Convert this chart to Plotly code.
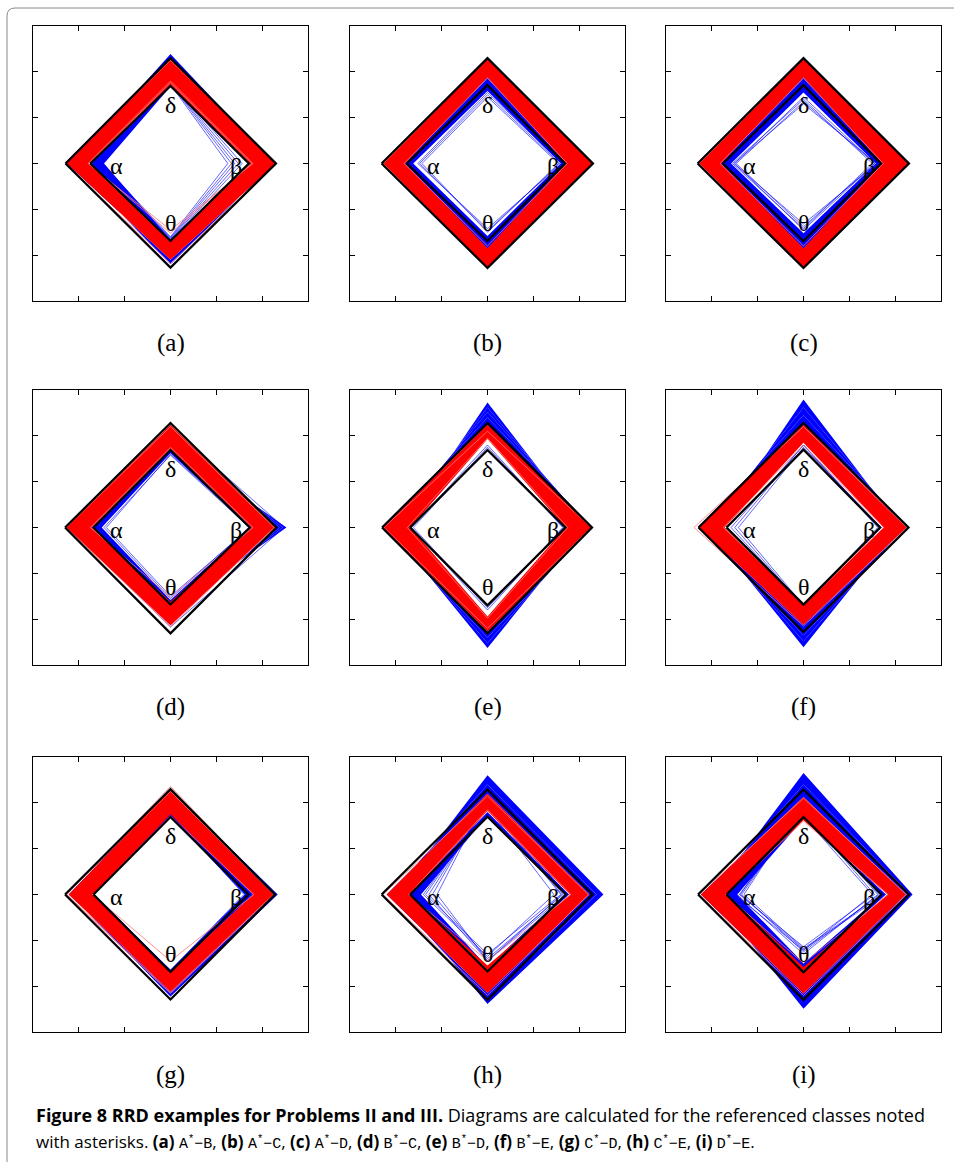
import plotly.graph_objects as go

W, H = 954, 1162

# ---------------- data (radii, order: alpha, delta, beta, theta) -------------
PANEL_TAGS = ["(a)", "(b)", "(c)", "(d)", "(e)", "(f)", "(g)", "(h)", "(i)"]
VERTEX_NAMES = ["α", "δ", "β", "θ"]

# two reference (black) diamonds per panel
BLACK_QUADS = [
    [[2.29, 2.30, 2.30, 2.27], [1.75, 1.69, 1.71, 1.69]],
    [[2.31, 2.30, 2.30, 2.28], [1.76, 1.71, 1.69, 1.69]],
    [[2.31, 2.30, 2.30, 2.28], [1.76, 1.71, 1.69, 1.69]],
    [[2.30, 2.28, 2.31, 2.31], [1.68, 1.69, 1.73, 1.68]],
    [[2.30, 2.28, 2.28, 2.31], [1.69, 1.69, 1.70, 1.70]],
    [[2.29, 2.28, 2.29, 2.28], [1.68, 1.70, 1.67, 1.68]],
    [[2.30, 2.30, 2.28, 2.29], [1.68, 1.69, 1.70, 1.69]],
    [[2.31, 2.29, 2.29, 2.30], [1.69, 1.70, 1.71, 1.68]],
    [[2.30, 2.29, 2.30, 2.30], [1.68, 1.69, 1.70, 1.70]],
]

# dense red bundle: envelope chain (outer -> inner)
RED_BANDS = [
    [[2.26, 2.28, 2.30, 2.10], [1.78, 1.72, 1.74, 1.72]],
    [[2.30, 2.30, 2.30, 2.28], [1.80, 1.88, 1.72, 1.85]],
    [[2.30, 2.30, 2.30, 2.28], [1.80, 1.88, 1.72, 1.85]],
    [[2.28, 2.24, 2.28, 2.14], [1.72, 1.72, 1.77, 1.62]],
    [[2.28, 2.24, 2.28, 2.27], [1.68, 1.93, 1.70, 1.94]],
    [[2.30, 2.24, 2.25, 2.12], [1.72, 1.85, 1.75, 1.70]],
    [[2.22, 2.30, 2.24, 2.12], [1.68, 1.75, 1.80, 1.68]],
    [[2.20, 2.20, 2.22, 2.15], [1.70, 1.82, 1.80, 1.55]],
    [[2.24, 2.13, 2.23, 2.16], [1.66, 1.62, 1.83, 1.58]],
]

# single pale red strands
RED_STRANDS = [
    [[1.80, 1.80, 1.80, 1.45], [1.78, 1.76, 1.78, 1.52], [2.30, 2.25, 2.32, 2.18]],
    [[2.27, 2.29, 2.29, 2.27], [1.82, 1.86, 1.74, 1.80]],
    [[2.27, 2.29, 2.29, 2.27], [1.82, 1.86, 1.74, 1.80]],
    [[2.27, 2.20, 2.26, 2.16], [1.75, 1.75, 1.80, 1.52]],
    [[1.75, 1.95, 1.75, 1.98], [2.26, 2.10, 2.26, 2.20]],
    [[2.39, 2.20, 2.25, 2.15], [1.75, 1.80, 1.75, 1.65]],
    [[2.26, 2.36, 2.26, 2.14], [1.70, 1.72, 1.82, 1.45], [2.28, 2.25, 2.25, 2.16]],
    [[2.28, 2.15, 2.20, 2.20], [1.72, 1.85, 1.82, 1.45]],
    [[2.28, 2.10, 2.25, 2.20], [1.70, 1.60, 1.85, 1.50]],
]

# dense blue bundles: list of envelope chains per panel
BLUE_BANDS = [
    [[[2.26, 2.28, 2.30, 2.10], [2.15, 2.39, 2.25, 2.20]],
     [[1.76, 1.72, 1.74, 1.72], [1.45, 1.68, 1.70, 1.66]]],
    [[[1.82, 1.88, 1.74, 1.86], [1.62, 1.58, 1.60, 1.58]]],
    [[[1.82, 1.88, 1.74, 1.86], [1.58, 1.55, 1.58, 1.52]]],
    [[[2.00, 2.20, 2.30, 2.10], [2.00, 2.00, 2.38, 2.00], [2.00, 1.90, 2.45, 1.90], [2.00, 1.80, 2.53, 1.80]],
     [[1.72, 1.72, 1.77, 1.66], [1.50, 1.62, 1.74, 1.58]]],
    [[[2.28, 2.24, 2.28, 2.00], [2.20, 2.40, 2.28, 2.00], [2.10, 2.52, 2.24, 2.00],
      [1.98, 2.62, 2.18, 2.00], [1.85, 2.73, 2.11, 2.00]],
     [[2.28, 2.00, 2.28, 2.27], [2.24, 2.00, 2.26, 2.40], [2.18, 2.00, 2.20, 2.52], [2.14, 2.00, 2.12, 2.63]]],
    [[[2.30, 2.24, 2.25, 2.00], [2.20, 2.45, 2.24, 2.00], [2.08, 2.62, 2.20, 2.00], [1.90, 2.79, 2.13, 2.00]],
     [[2.30, 2.00, 2.25, 2.12], [2.24, 2.00, 2.22, 2.35], [2.18, 2.00, 2.16, 2.48], [2.12, 2.00, 2.10, 2.61]]],
    [[[2.22, 2.30, 2.24, 2.12], [2.20, 2.28, 2.34, 2.22]],
     [[1.72, 1.76, 1.80, 1.70], [1.66, 1.70, 1.62, 1.64]]],
    [[[2.20, 2.20, 2.22, 2.15], [2.12, 2.40, 2.38, 2.28], [2.00, 2.60, 2.53, 2.39]],
     [[1.72, 1.80, 1.78, 1.60], [1.45, 1.72, 1.70, 1.58]]],
    [[[2.24, 2.13, 2.23, 2.16], [2.12, 2.40, 2.32, 2.32], [2.00, 2.65, 2.38, 2.49]],
     [[1.72, 1.66, 1.80, 1.62], [1.45, 1.64, 1.72, 1.50]]],
]

# single blue strands
BLUE_STRANDS = [
    [[1.50, 1.72, 1.25, 1.60], [1.55, 1.74, 1.33, 1.62], [1.58, 1.75, 1.40, 1.64],
     [1.62, 1.76, 1.48, 1.66], [1.66, 1.78, 1.56, 1.68]],
    [[1.43, 1.45, 1.55, 1.50], [1.48, 1.50, 1.58, 1.47], [1.52, 1.55, 1.62, 1.42]],
    [[1.50, 1.45, 1.56, 1.45], [1.47, 1.35, 1.55, 1.38], [1.52, 1.30, 1.60, 1.32], [1.55, 1.40, 1.50, 1.42]],
    [[1.40, 1.60, 1.75, 1.50], [1.45, 1.58, 1.72, 1.55], [2.22, 2.18, 2.48, 2.17]],
    [[1.62, 1.75, 1.66, 1.75], [1.66, 1.80, 1.64, 1.80]],
    [[1.42, 1.75, 1.70, 1.70], [1.50, 1.80, 1.66, 1.72], [1.58, 1.80, 1.62, 1.72]],
    [[1.75, 1.78, 1.60, 1.65], [1.70, 1.72, 1.65, 1.70], [2.15, 2.25, 2.30, 2.22]],
    [[1.20, 2.10, 1.65, 1.40], [1.28, 2.00, 1.62, 1.45], [1.35, 1.95, 1.60, 1.30],
     [1.10, 2.15, 1.70, 1.45], [1.40, 1.90, 1.45, 1.35]],
    [[1.30, 1.98, 1.70, 1.18], [1.35, 1.90, 1.65, 1.25], [1.40, 1.80, 1.55, 1.14],
     [1.45, 1.85, 1.62, 1.30], [1.38, 1.95, 1.75, 1.20], [1.50, 1.70, 1.50, 1.22]],
]

CAPTION_TITLE = "Figure 8 RRD examples for Problems II and III."
CAPTION_REST = "Diagrams are calculated for the referenced classes noted"
CAPTION_LEAD = "with asterisks."
CAPTION_PAIRS = [("a", "A", "B"), ("b", "A", "C"), ("c", "A", "D"), ("d", "B", "C"), ("e", "B", "D"),
                 ("f", "B", "E"), ("g", "C", "D"), ("h", "C", "E"), ("i", "D", "E")]

# ---------------- layout constants ----------------
COL_LEFT = [33, 350, 666]
ROW_TOP = [26, 390, 757]
SIZE = 275
TAG_Y = [343, 707, 1075]
VERTEX_POS = [(-1.17, -0.05), (0.0, 1.27), (1.42, -0.05), (0.0, -1.29)]

RED = "rgb(255,0,0)"
RED_PALE = "rgba(255,120,120,0.8)"
BLUE = "rgb(0,0,255)"
BLUE_THIN = "rgba(0,0,255,0.6)"
SERIF = "Liberation Serif, DejaVu Serif, serif"
SANS = "Open Sans"


def px(x):
    return x / W


def py(y):
    return 1 - y / H


def quad_xy(q):
    a, d, b, t = q
    return [-a, 0, b, 0, -a], [0, d, 0, -t, 0]


def ribbon_xy(q1, q2):
    x1, y1 = quad_xy(q1)
    x2, y2 = quad_xy(q2)
    return x1 + x2[::-1], y1 + y2[::-1]


fig = go.Figure()
annotations = []

for i in range(9):
    r, c = divmod(i, 3)
    n = "" if i == 0 else str(i + 1)
    xa, ya = "x" + n, "y" + n
    left, top = COL_LEFT[c], ROW_TOP[r]
    axis_common = dict(range=[-3, 3], showline=True, linecolor="black", linewidth=1, mirror="ticks",
                       ticks="inside", ticklen=5, tickwidth=1, tickcolor="black",
                       tickvals=[-2, -1, 0, 1, 2], showticklabels=False, showgrid=False,
                       zeroline=False, fixedrange=True)
    fig.layout["xaxis" + n] = dict(domain=[px(left), px(left + SIZE)], anchor=ya, **axis_common)
    fig.layout["yaxis" + n] = dict(domain=[py(top + SIZE), py(top)], anchor=xa, **axis_common)

    def add_ribbon(q1, q2, color):
        x, y = ribbon_xy(q1, q2)
        fig.add_trace(go.Scatter(x=x, y=y, mode="lines", fill="toself", fillcolor=color,
                                 line=dict(width=0, color=color), hoverinfo="skip",
                                 showlegend=False, xaxis=xa, yaxis=ya))

    def add_quad(q, color, width):
        x, y = quad_xy(q)
        fig.add_trace(go.Scatter(x=x, y=y, mode="lines", line=dict(width=width, color=color),
                                 hoverinfo="skip", showlegend=False, xaxis=xa, yaxis=ya))

    for chain in BLUE_BANDS[i]:
        for k in range(len(chain) - 1):
            add_ribbon(chain[k], chain[k + 1], BLUE)
    for q in BLUE_STRANDS[i]:
        add_quad(q, BLUE_THIN, 1)
    chain = RED_BANDS[i]
    for k in range(len(chain) - 1):
        add_ribbon(chain[k], chain[k + 1], RED)
    for q in RED_STRANDS[i]:
        add_quad(q, RED_PALE, 1)
    for q in BLACK_QUADS[i]:
        add_quad(q, "black", 2.3)

    for name, (vx, vy) in zip(VERTEX_NAMES, VERTEX_POS):
        annotations.append(dict(x=vx, y=vy, xref=xa, yref=ya, text=name, showarrow=False,
                                font=dict(family=SERIF, size=24, color="black")))
    annotations.append(dict(x=px(left + SIZE / 2), y=py(TAG_Y[r]), xref="paper", yref="paper",
                            text=PANEL_TAGS[i], showarrow=False, xanchor="center", yanchor="middle",
                            font=dict(family=SERIF, size=25, color="black")))

mono = 'style="font-family:Liberation Mono;font-size:15px"'
pairs = ", ".join(
    f"<b>({t})</b> <span {mono}>{p}<sup>*</sup>−{q}</span>" for t, p, q in CAPTION_PAIRS)
annotations.append(dict(x=px(34), y=py(1115), xref="paper", yref="paper", xanchor="left",
                        yanchor="middle", showarrow=False, align="left",
                        text=f"<b>{CAPTION_TITLE}</b> {CAPTION_REST}",
                        font=dict(family=SANS, size=18, color="black")))
annotations.append(dict(x=px(34), y=py(1141), xref="paper", yref="paper", xanchor="left",
                        yanchor="middle", showarrow=False, align="left",
                        text=f"{CAPTION_LEAD} {pairs}.",
                        font=dict(family=SANS, size=17, color="black")))

frame_path = (f"M {px(7)},{py(1180)} L {px(7)},{py(16)} Q {px(7)},{py(8)} {px(15)},{py(8)} "
              f"L {px(960)},{py(8)}")

fig.update_layout(width=W, height=H, margin=dict(l=0, r=0, t=0, b=0),
                  paper_bgcolor="white", plot_bgcolor="white", showlegend=False,
                  annotations=annotations,
                  shapes=[dict(type="path", path=frame_path, xref="paper", yref="paper",
                               line=dict(color="#8a8a8a", width=1))])

fig.write_html("out.html", config={"displayModeBar": False, "staticPlot": True},
               post_script="document.body.style.margin='0px';")
